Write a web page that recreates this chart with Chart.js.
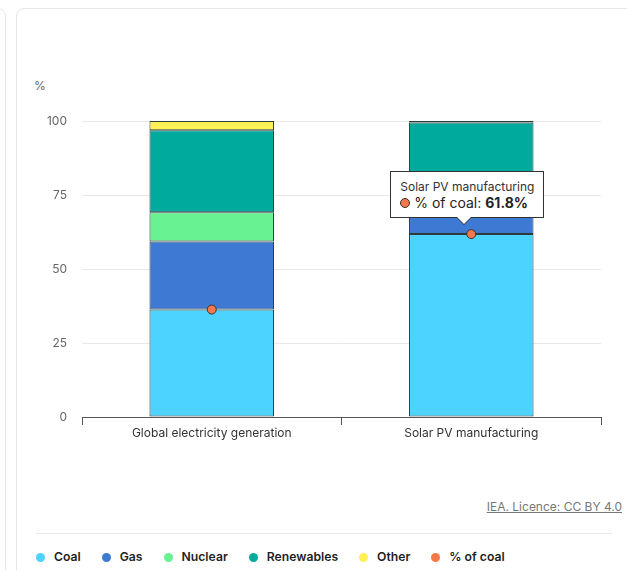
<!DOCTYPE html>
<html>
<head>
<meta charset="utf-8">
<script src="https://cdn.jsdelivr.net/npm/chart.js@4/dist/chart.umd.min.js"></script>
<style>
  html, body { margin: 0; padding: 0; background: #fff; overflow: hidden; }
  body { width: 627px; height: 570px; position: relative; font-family: Inter, "Noto Sans", sans-serif; }
  .prev-card { position: absolute; left: -30px; top: 8px; width: 34px; height: 620px;
               border: 1px solid #e6e6e6; border-radius: 8px; }
  .card { position: absolute; left: 16px; top: 8px; width: 660px; height: 620px;
          border: 1px solid #e6e6e6; border-radius: 8px; }
  #wrap { position: absolute; left: 0; top: 0; width: 627px; height: 450px; }
  .unit { position: absolute; left: 34px; top: 78px; font-size: 12px; color: #666; }
  .credit { position: absolute; right: 5px; top: 499px; font-size: 12px; color: #777;
            text-decoration: underline; }
  .sep { position: absolute; left: 36px; width: 576px; top: 533px; border-top: 1px solid #e8e8e8; }
  #legend { position: absolute; left: 36px; top: 549px; display: flex; gap: 21px;
            font-size: 12.2px; font-weight: 600; color: #1f1f1f; }
  #legend span { display: flex; align-items: center; gap: 9px; line-height: 16px; }
  #legend i { width: 9px; height: 9px; border-radius: 50%; display: inline-block; }
  #tip { position: absolute; background: #fff; border: 1px solid #333; padding: 7px 9px 6px 9px;
         font-size: 12px; color: #333; line-height: 15px; display: none; white-space: nowrap; }
  #tip .row { display: flex; align-items: center; gap: 4px; font-size: 14px; line-height: 17px; color: #222; }
  #tip .dot { width: 10px; height: 10px; border-radius: 50%; border: 1px solid #333; box-sizing: border-box; }
  #tip:after, #tip:before { content: ''; position: absolute; left: var(--cx); border: solid transparent; }
  #tip:before { top: 100%; border-width: 8px; border-top-color: #333; margin-left: -8px; }
  #tip:after  { top: 100%; border-width: 7px; border-top-color: #fff; margin-left: -7px; }
</style>
</head>
<body>
<div class="prev-card"></div>
<div class="card"></div>
<div class="unit">%</div>
<div id="wrap"><canvas id="chart"></canvas></div>
<div class="credit">IEA. Licence: CC BY 4.0</div>
<div class="sep"></div>
<div id="legend"></div>
<div id="tip"></div>

<script>
// shares of electricity by source, %
const categories = ['Global electricity generation', 'Solar PV manufacturing'];
const coal       = [36.3, 61.8];
const gas        = [23.0, 6.5];
const nuclear    = [9.9, 3.5];
const renewables = [27.7, 27.7];
const other      = [3.1, 0.5];
const coalShare  = [36.3, 61.8];

const yTicks = [0, 25, 50, 75, 100];

const sources = [
  { label: 'Coal',       data: coal,       color: '#4cd3ff' },
  { label: 'Gas',        data: gas,        color: '#3e79d3' },
  { label: 'Nuclear',    data: nuclear,    color: '#69f292' },
  { label: 'Renewables', data: renewables, color: '#00aa9c' },
  { label: 'Other',      data: other,      color: '#fff154' },
];
const markerColor = '#f8774a';
const edge = '#2e3b3b';

const font = { family: 'Inter, "Noto Sans", sans-serif', size: 12 };

/* ── tooltip drawn as a box above the point ── */
function externalTip(ctx) {
  const tip = document.getElementById('tip');
  const t = ctx.tooltip;
  if (!t || t.opacity === 0 || !t.dataPoints || !t.dataPoints.length) { tip.style.display = 'none'; return; }
  const dp = t.dataPoints[0];
  tip.innerHTML =
    '<div>' + dp.label + '</div>' +
    '<div class="row"><span class="dot" style="background:' + markerColor + '"></span>' +
    dp.dataset.label + ': <b>' + dp.raw.toFixed(1) + '%</b></div>';
  tip.style.display = 'block';
  const w = tip.offsetWidth, h = tip.offsetHeight;
  const left = t.caretX - 8 - w / 2 + 4;
  tip.style.left = left + 'px';
  tip.style.top  = (t.caretY - 16 - h) + 'px';
  tip.style.setProperty('--cx', (t.caretX - 8 - left) + 'px');
}

const datasets = sources.map(s => ({
  type: 'bar',
  label: s.label,
  data: s.data,
  backgroundColor: s.color,
  hoverBackgroundColor: s.color,
  borderColor: edge,
  hoverBorderColor: edge,
  borderWidth: 1,
  borderSkipped: false,
  barPercentage: 0.48,
  categoryPercentage: 1,
  stack: 'mix',
  order: 1,
}));

datasets.push({
  type: 'line',
  label: '% of coal',
  data: coalShare,
  showLine: false,
  stack: 'share',
  pointRadius: 4.5,
  pointHoverRadius: 4.5,
  pointBackgroundColor: markerColor,
  pointHoverBackgroundColor: markerColor,
  pointBorderColor: '#333',
  pointHoverBorderColor: '#333',
  pointBorderWidth: 1,
  pointHoverBorderWidth: 1,
  order: 0,
});

const chart = new Chart(document.getElementById('chart'), {
  data: { labels: categories, datasets },
  options: {
    responsive: true, maintainAspectRatio: false,
    animation: false,
    layout: { padding: { left: 0, right: 26, top: 121, bottom: 3 } },
    plugins: {
      legend: { display: false },
      tooltip: { enabled: false, external: externalTip },
    },
    scales: {
      x: {
        stacked: true,
        grid: { offset: true, drawOnChartArea: false, tickLength: 8, color: '#555' },
        border: { color: '#555' },
        ticks: { color: '#333', font, padding: 1 },
        afterFit: s => { s.height = 30; },
      },
      y: {
        stacked: true,
        min: 0, max: 100,
        afterBuildTicks: s => { s.ticks = yTicks.map(v => ({ value: v })); },
        grid: { color: '#e8e8e8', drawTicks: false },
        border: { display: false },
        ticks: { color: '#666', font, padding: 15 },
        afterFit: s => { s.width = 82; },
      },
    },
  },
});

// open the tooltip on the solar PV coal share point
const active = [{ datasetIndex: datasets.length - 1, index: 1 }];
chart.tooltip.setActiveElements(active, { x: 0, y: 0 });
chart.update();

/* ── legend ── */
const legend = document.getElementById('legend');
sources.concat([{ label: '% of coal', color: markerColor }]).forEach(s => {
  const item = document.createElement('span');
  item.innerHTML = '<i style="background:' + s.color + '"></i>' + s.label;
  legend.appendChild(item);
});
</script>
</body>
</html>
